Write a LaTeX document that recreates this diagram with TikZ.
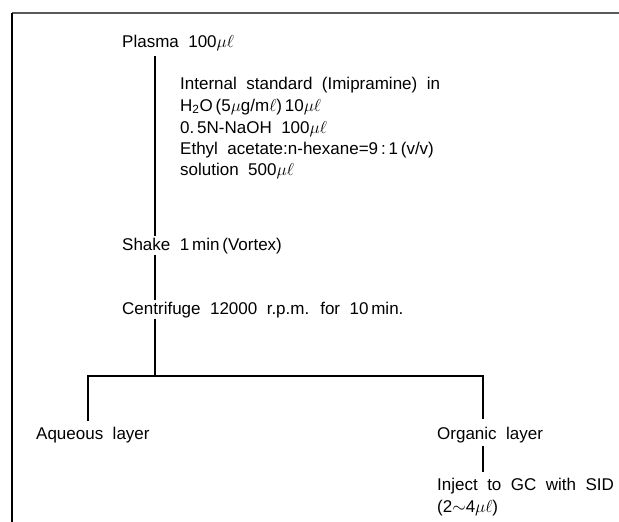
\documentclass[tikz,border=0pt]{standalone}
\usepackage{fontspec}
\setmainfont[WordSpace=2]{Liberation Sans}
\usetikzlibrary{positioning,calc}

\begin{document}
\begin{tikzpicture}[x=1pt,y=1pt,
    stage/.style={anchor=base west,inner sep=0pt,font=\fontsize{17}{19}\selectfont},
    flow/.style={line width=1.4pt},
    gap/.style={shorten <=#1,shorten >=#1}]
\useasboundingbox (0,0) rectangle (619,-522);
% frame
\draw[line width=2pt,black!65] (12,-13) -- (619,-13);
\draw[line width=1.6pt] (12,-13) -- (12,-522);

% steps
\node[stage] (plasma) at (122,-47) {Plasma 100$\mu\ell$};
\node[stage] (add1) at (180,-89) {Internal standard (Imipramine) in};
\node[stage] (add2) at (180,-111) {H\textsubscript{2}O\,(5$\mu$g/m$\ell$)\,10$\mu\ell$};
\node[stage] (add3) at (180,-133) {0.\,5N-NaOH 100$\mu\ell$};
\node[stage] (add4) at (180,-154) {Ethyl acetate:n-hexane=9\,:\,1\,(v/v)};
\node[stage] (add5) at (180,-175) {solution 500$\mu\ell$};
\node[stage] (shake) at (122,-250) {Shake 1\,min\,(Vortex)};
\node[stage] (centrifuge) at (122,-314) {Centrifuge 12000 r.p.m. for 10\,min.};
\node[stage] (aqueous) at (36,-439) {Aqueous layer};
\node[stage] (organic) at (437,-439) {Organic layer};
\node[stage] (inject) at (437,-490) {Inject to GC with SID};
\node[stage] (dose) at (437,-512) {(2$\sim$4$\mu\ell$)};

\coordinate (trunk) at (155,0);
\coordinate (split) at (155,-376);
\coordinate (ldrop) at (88,0);
\coordinate (rdrop) at (483,0);

% connectors
\draw[flow,shorten <=5pt,shorten >=1pt] (plasma.south -| trunk) -- (shake.north -| trunk);
\draw[flow,gap=1pt] (shake.south -| trunk) -- (centrifuge.north -| trunk);
\draw[flow,shorten <=1pt] (centrifuge.south -| trunk) -- (split);
\draw[flow,shorten <=5pt,shorten >=7pt] (aqueous.north -| ldrop) |- (split) -| (organic.north -| rdrop);
\draw[flow,shorten <=3pt,shorten >=5pt] (organic.south -| rdrop) -- (inject.north -| rdrop);
\end{tikzpicture}
\end{document}
